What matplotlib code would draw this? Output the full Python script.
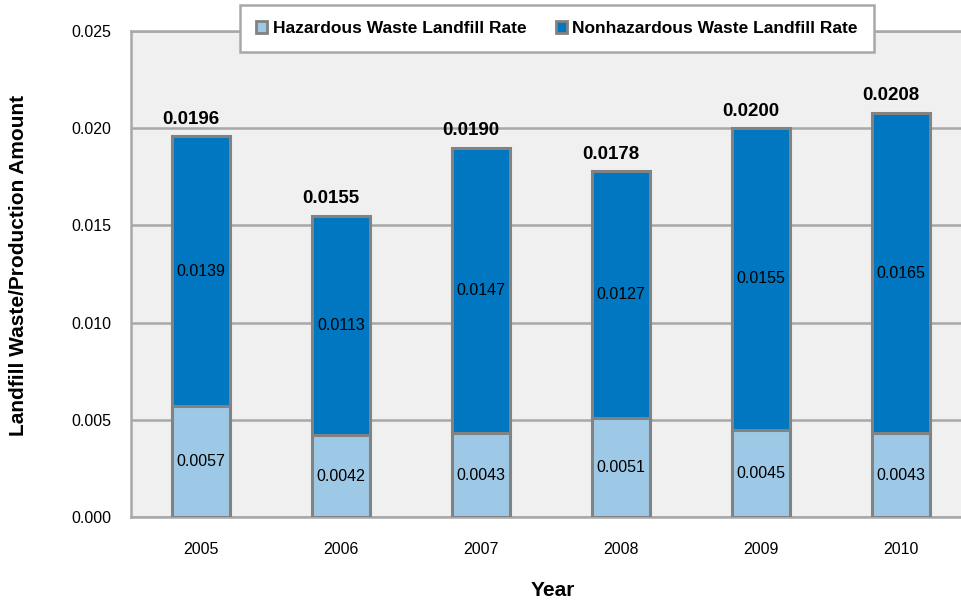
import numpy as np
import matplotlib.pyplot as plt
from matplotlib.patches import Patch

# Data
years = ['2005', '2006', '2007', '2008', '2009', '2010']
hazardous = [0.0057, 0.0042, 0.0043, 0.0051, 0.0045, 0.0043]
nonhazardous = [0.0139, 0.0113, 0.0147, 0.0127, 0.0155, 0.0165]
totals = [0.0196, 0.0155, 0.0190, 0.0178, 0.0200, 0.0208]
yticks = [0.000, 0.005, 0.010, 0.015, 0.020, 0.025]

# Colors
c_haz = '#9dc9e7'
c_nonhaz = '#0077c0'
c_edge = '#828282'
c_grid = '#a8a8a8'

plt.rcParams['font.family'] = ['Liberation Sans', 'DejaVu Sans']

fig = plt.figure(figsize=(9.61, 6.02), dpi=100)
W, H = 961, 602
ax = fig.add_axes([131 / W, 1 - 517 / H, 840 / W, (517 - 31) / H])
ax.set_facecolor('#f0f0f0')

x = np.arange(len(years))
bw = 0.41
ax.bar(x, hazardous, bw, color=c_haz, edgecolor=c_edge, linewidth=2.2, zorder=3)
ax.bar(x, nonhazardous, bw, bottom=hazardous, color=c_nonhaz,
       edgecolor=c_edge, linewidth=2.2, zorder=3)

# Labels in the segments and on top
for i in range(len(years)):
    ax.text(x[i], hazardous[i] / 2, '%.4f' % hazardous[i], ha='center',
            va='center', fontsize=11.5, zorder=4)
    ax.text(x[i], hazardous[i] + nonhazardous[i] / 2, '%.4f' % nonhazardous[i],
            ha='center', va='center', fontsize=11.5, zorder=4)
    ax.annotate('%.4f' % totals[i], (x[i], totals[i]), xytext=(-7, 6),
                textcoords='offset points', ha='center', va='bottom',
                fontsize=13.5, fontweight='bold', zorder=4)

ax.set_xlim(-0.5, 5.5)
ax.set_ylim(0, 0.025)
ax.set_yticks(yticks)
ax.set_yticklabels(['%.3f' % v for v in yticks], fontsize=11.5)
ax.set_xticks(x)
ax.set_xticklabels(years, fontsize=11.5)
ax.tick_params(axis='both', length=0)
ax.tick_params(axis='y', pad=14)
ax.tick_params(axis='x', pad=18)
ax.yaxis.grid(True, color=c_grid, linewidth=1.8, zorder=1)
for s in ['left', 'bottom', 'top', 'right']:
    ax.spines[s].set_color(c_grid)
    ax.spines[s].set_linewidth(1.8)

fig.text(19 / W, 1 - 265 / H, 'Landfill Waste/Production Amount', rotation=90,
         ha='center', va='center', fontsize=15, fontweight='bold')
fig.text(553 / W, 1 - 591 / H, 'Year', ha='center', va='center',
         fontsize=15, fontweight='bold')

handles = [Patch(facecolor=c_haz, edgecolor=c_edge, linewidth=2),
           Patch(facecolor=c_nonhaz, edgecolor=c_edge, linewidth=2)]
leg = fig.legend(handles, ['Hazardous Waste Landfill Rate',
                           'Nonhazardous Waste Landfill Rate'],
                 loc='center', bbox_to_anchor=(557 / W, 1 - 28.5 / H), ncol=2,
                 prop={'weight': 'bold', 'size': 12.5},
                 frameon=True, fancybox=False, handlelength=0.65,
                 handleheight=0.65, handletextpad=0.3, columnspacing=1.7,
                 borderpad=0.95)
leg.get_frame().set_edgecolor(c_grid)
leg.get_frame().set_linewidth(1.8)
leg.get_frame().set_facecolor('white')
leg.get_frame().set_alpha(1)

fig.savefig('out.png', dpi=100)
